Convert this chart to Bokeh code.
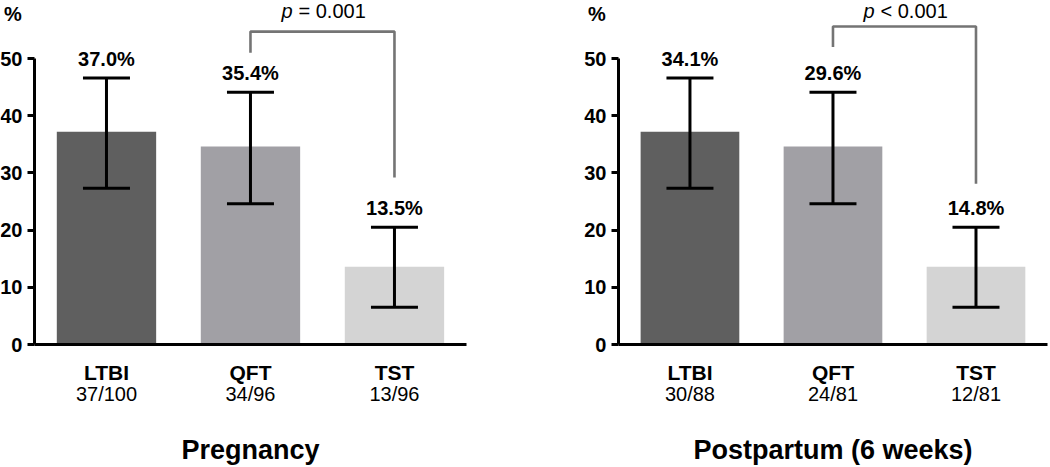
from bokeh.plotting import figure
from bokeh.models import (ColumnDataSource, Whisker, TeeHead, LinearAxis, FixedTicker,
                          Range1d)
from bokeh.layouts import row
from bokeh.embed import file_html
from bokeh.resources import INLINE
from bokeh.core.properties import value

# ---------------- data ----------------
categories = ["LTBI", "QFT", "TST"]
panel_titles = ["Pregnancy", "Postpartum (6 weeks)"]

preg_bar = [37.2, 34.6, 13.6]
preg_low = [27.3, 24.6, 6.5]
preg_high = [46.6, 44.1, 20.5]
preg_labels = ["37.0%", "35.4%", "13.5%"]
preg_counts = ["37/100", "34/96", "13/96"]
preg_p_sign = "="
preg_p_value = "0.001"

post_bar = [37.2, 34.6, 13.6]
post_low = [27.3, 24.6, 6.5]
post_high = [46.6, 44.1, 20.5]
post_labels = ["34.1%", "29.6%", "14.8%"]
post_counts = ["30/88", "24/81", "12/81"]
post_p_sign = "<"
post_p_value = "0.001"

y_ticks = [0, 10, 20, 30, 40, 50]
y_unit = "%"

# ---------------- styles ----------------
FONT = "Liberation Sans"
bar_colors = ["#5f5f5f", "#a1a0a5", "#d4d4d4"]
bracket_color = "#747474"
HEIGHT = 467
Y_MIN, Y_MAX = -21.5, 60.14


def make_panel(title, bars, low, high, labels, counts, p_sign, p_val,
               bracket_levels, width, x_start, x_end):
    p = figure(width=width, height=HEIGHT,
               x_range=Range1d(x_start, x_end), y_range=Range1d(Y_MIN, Y_MAX),
               output_backend="svg", toolbar_location=None,
               min_border_left=0, min_border_right=0,
               min_border_top=0, min_border_bottom=0)
    p.outline_line_color = None
    p.grid.visible = False
    p.background_fill_color = "white"
    p.border_fill_color = "white"

    xs = list(range(len(categories)))
    src = ColumnDataSource(dict(x=xs, top=bars, low=low, high=high,
                                color=bar_colors, lab=labels,
                                laby=[h + 3.3 for h in high]))
    p.vbar(x="x", top="top", bottom=0, width=0.69, fill_color="color",
           line_color=None, source=src)

    w = Whisker(base="x", lower="low", upper="high", source=src,
                line_color="black", line_width=3, level="annotation",
                upper_head=TeeHead(size=47, line_width=3, line_color="black"),
                lower_head=TeeHead(size=47, line_width=3, line_color="black"))
    p.add_layout(w)

    p.text(x="x", y="laby", text="lab", source=src, text_font=value(FONT),
           text_font_style="bold", text_font_size="20px", text_align="center",
           text_baseline="middle", text_color="black")

    # significance bracket between QFT and TST
    bl, bt, br = bracket_levels
    p.line(x=[1, 1, 2, 2], y=[bl, bt, bt, br], line_color=bracket_color,
           line_width=2.6)
    p.text(x=[1.5], y=[58.3], text=["p"], text_font=value(FONT),
           text_font_style="italic", text_font_size="20px", text_align="left",
           text_baseline="middle", x_offset=-41, text_color="black")
    p.text(x=[1.5], y=[58.3], text=[f"{p_sign} {p_val}"], text_font=value(FONT),
           text_font_size="20px", text_align="left", text_baseline="middle",
           x_offset=-24, text_color="black")

    # unit label above the y axis
    p.text(x=[-0.65], y=[57.8], text=[y_unit], text_font=value(FONT),
           text_font_style="bold", text_font_size="20px", text_align="center",
           text_baseline="middle", text_color="black")

    # y axis, drawn at the left end of the category span
    ya = p.yaxis[0]
    ya.fixed_location = -0.5
    ya.ticker = FixedTicker(ticks=y_ticks)
    ya.bounds = (0, 50)
    ya.axis_line_width = 3
    ya.major_tick_line_width = 3
    ya.major_tick_in = 0
    ya.major_tick_out = 7
    ya.minor_tick_out = 0
    ya.minor_tick_in = 0
    ya.major_label_standoff = 5
    ya.major_label_text_font = FONT
    ya.major_label_text_font_style = "bold"
    ya.major_label_text_font_size = "20px"
    ya.major_label_text_color = "black"

    # x axis with category names, drawn at y = 0
    xa = p.xaxis[0]
    xa.fixed_location = 0
    xa.ticker = FixedTicker(ticks=xs)
    xa.bounds = (-0.5, 2.5)
    xa.major_label_overrides = {i: c for i, c in enumerate(categories)}
    xa.axis_line_width = 3
    xa.major_tick_in = 0
    xa.major_tick_out = 0
    xa.minor_tick_in = 0
    xa.minor_tick_out = 0
    xa.major_label_standoff = 16
    xa.major_label_text_font = FONT
    xa.major_label_text_font_style = "bold"
    xa.major_label_text_font_size = "21px"
    xa.major_label_text_color = "black"

    # second axis with counts and the panel title
    xa2 = LinearAxis(ticker=FixedTicker(ticks=xs), bounds=(-0.5, 2.5),
                     fixed_location=0,
                     major_label_overrides={i: c for i, c in enumerate(counts)},
                     axis_line_color=None, major_tick_in=0, major_tick_out=0,
                     minor_tick_in=0, minor_tick_out=0, major_label_standoff=38,
                     major_label_text_font=FONT,
                     major_label_text_font_size="20px",
                     major_label_text_color="black",
                     axis_label=title, axis_label_standoff=27,
                     axis_label_text_font=FONT,
                     axis_label_text_font_style="bold",
                     axis_label_text_font_size="27px",
                     axis_label_text_color="black")
    p.add_layout(xa2, "below")
    return p


left = make_panel(panel_titles[0], preg_bar, preg_low, preg_high, preg_labels,
                  preg_counts, preg_p_sign, preg_p_value, (51.0, 54.7, 29.2),
                  width=525, x_start=-0.736, x_end=2.910)
right = make_panel(panel_titles[1], post_bar, post_low, post_high, post_labels,
                   post_counts, post_p_sign, post_p_value, (52.0, 55.6, 28.1),
                   width=525, x_start=-1.150, x_end=2.521)

layout = row(left, right, spacing=0)
open("out.html", "w").write(file_html(layout, INLINE))
